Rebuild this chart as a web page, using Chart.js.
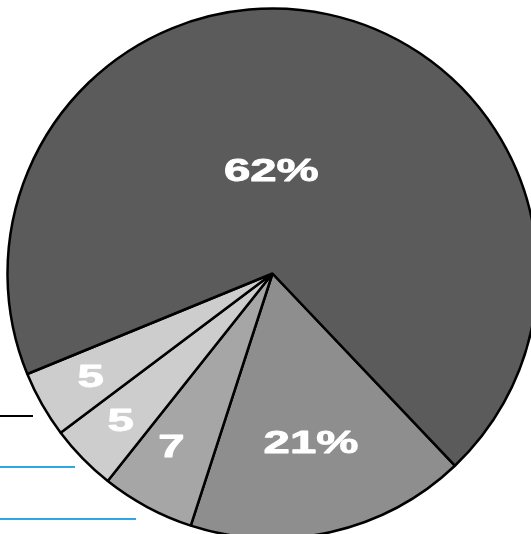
<!DOCTYPE html>
<html>
<head>
<meta charset="utf-8">
<script src="https://cdn.jsdelivr.net/npm/chart.js@4/dist/chart.umd.min.js"></script>
<style>
  html, body { margin: 0; padding: 0; background: #fff; overflow: hidden; }
  #wrap { position: relative; width: 531px; height: 534px; }
  #pie { position: absolute; left: 0; top: 0; }
  .rule { position: absolute; left: 0; height: 2px; }
</style>
</head>
<body>
<div id="wrap">
  <canvas id="pie" width="531" height="534"></canvas>
  <div class="rule" style="top:415px; width:33px; background:#000;"></div>
  <div class="rule" style="top:466px; width:75px; background:#2ea8e0;"></div>
  <div class="rule" style="top:518px; width:136px; background:#2ea8e0;"></div>
</div>
<script>
// ================= DATA =================
const categories = ["B", "C", "D", "E", "A"];
const sliceValues = [21, 7, 5, 5, 85];
const sliceLabels = ["21%", "7", "5", "5", "62%"];
const sliceColors = ["#8e8e8e", "#a6a6a6", "#cdcdcd", "#cdcdcd", "#5b5b5b"];

// ================= LABEL PLUGIN =================
// writes the text on each slice, at a distance from the centre (px)
// and with a small angle shift (deg) for the big slice
const sliceText = {
  id: "sliceText",
  afterDatasetsDraw(chart, args, opts) {
    const ctx = chart.ctx;
    const meta = chart.getDatasetMeta(0);
    ctx.save();
    ctx.fillStyle = "#fff";
    ctx.strokeStyle = "#fff";
    ctx.lineWidth = 0.9;
    ctx.lineJoin = "round";
    ctx.font = "bold 32px 'Liberation Sans', Arial, sans-serif";
    ctx.textAlign = "center";
    ctx.textBaseline = "middle";
    meta.data.forEach((arc, i) => {
      const mid = (arc.startAngle + arc.endAngle) / 2 + (opts.shift[i] || 0) * Math.PI / 180;
      const r = opts.dist[i];
      const x = arc.x + Math.cos(mid) * r;
      const y = arc.y + Math.sin(mid) * r;
      ctx.save();
      ctx.translate(x, y + 1);
      ctx.scale(1.48, 1);
      ctx.fillText(sliceLabels[i], 0, 0);
      ctx.strokeText(sliceLabels[i], 0, 0);
      ctx.restore();
    });
    ctx.restore();
  }
};

// ================= CHART =================
new Chart(document.getElementById("pie"), {
  type: "pie",
  data: {
    labels: categories,
    datasets: [{
      data: sliceValues,
      backgroundColor: sliceColors,
      borderColor: "#000",
      borderWidth: 2.5,
      hoverOffset: 0
    }]
  },
  options: {
    responsive: false,
    animation: false,
    rotation: 136.5,
    radius: 265,
    layout: { padding: { left: 14, top: 13, right: 0, bottom: 0 } },
    plugins: {
      legend: { display: false },
      tooltip: { enabled: false },
      sliceText: {
        dist: [174, 201, 212, 209, 102],
        shift: [0, 2, 0, 0, -12.8]
      }
    }
  },
  plugins: [sliceText]
});
</script>
</body>
</html>
